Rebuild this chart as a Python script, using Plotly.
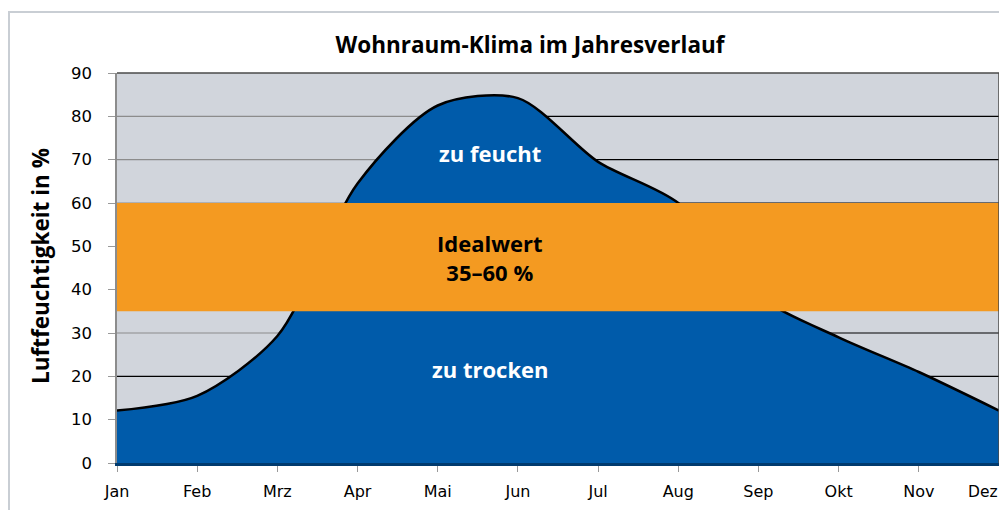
import plotly.graph_objects as go

months = ["Jan", "Feb", "Mrz", "Apr", "Mai", "Jun", "Jul", "Aug", "Sep", "Okt", "Nov", "Dez"]
humidity = [12.1, 15.5, 29.3, 64.5, 82.5, 84.2, 69.5, 60.0, 38.5, 29.0, 21.0, 12.1]
ideal_low = 35
ideal_high = 60
y_ticks = [0, 10, 20, 30, 40, 50, 60, 70, 80, 90]

xs = list(range(len(months)))

# page body offset compensation (browser default margin)
L, T, PW, PH = 109, 65, 882, 390
W, H = 1007, 510

fig = go.Figure()

fig.add_trace(go.Scatter(
    x=xs, y=humidity, mode="lines", fill="tozeroy",
    fillcolor="#005BAA", line=dict(color="black", width=2.5, shape="spline", smoothing=0.8),
    hoverinfo="skip", showlegend=False,
))

shapes = []
for v in [10, 20, 30, 60, 70, 80]:
    left_col = "#000000" if v in (10, 20) else "#8C8C8C"
    shapes.append(dict(type="line", xref="x", yref="y", x0=0, x1=4.6, y0=v, y1=v,
                       line=dict(color=left_col, width=1.2), layer="below"))
    shapes.append(dict(type="line", xref="x", yref="y", x0=4.6, x1=11, y0=v, y1=v,
                       line=dict(color="#000000", width=1.2), layer="below"))
shapes.append(dict(type="rect", xref="x", yref="y", x0=0, x1=11, y0=ideal_low, y1=ideal_high,
                   fillcolor="#F49A21", line=dict(width=0), layer="above"))
shapes.append(dict(type="line", xref="paper", yref="paper", x0=0, x1=1, y0=1, y1=1,
                   line=dict(color="#4A4A4A", width=1.5)))
shapes.append(dict(type="line", xref="paper", yref="paper", x0=1, x1=1, y0=0, y1=1,
                   line=dict(color="#4A4A4A", width=1.5)))
shapes.append(dict(type="rect", xref="paper", yref="paper",
                   x0=(1 - L) / PW, x1=1.2, y0=-0.3, y1=(T + PH - 4) / PH,
                   line=dict(color="#C9CED4", width=2), fillcolor="rgba(0,0,0,0)", layer="below"))

ticktext = months[:-1] + [""]

fig.update_layout(
    width=W, height=H,
    margin=dict(l=L, r=W - L - PW, t=T, b=H - T - PH, autoexpand=False),
    paper_bgcolor="white", plot_bgcolor="#D1D5DC",
    shapes=shapes,
    title=dict(text="<b>Wohnraum-Klima im Jahresverlauf</b>", x=(522 - L) / PW, xref="paper",
               xanchor="center", y=1 - 37 / H, yanchor="middle",
               font=dict(family="Open Sans", size=22.5, color="black")),
    font=dict(family="DejaVu Sans", color="black"),
    xaxis=dict(range=[0, 11], tickvals=xs, ticktext=ticktext, showgrid=False, zeroline=False,
               showline=True, linecolor="#003A6E", linewidth=2.5, ticks="outside", ticklen=6,
               tickcolor="#999999", tickfont=dict(size=16), ticklabelstandoff=6,
               fixedrange=True, automargin=False),
    yaxis=dict(range=[0, 90], tickvals=y_ticks, showgrid=False, zeroline=False,
               showline=True, linecolor="#8C8C8C", linewidth=1.5, ticks="outside", ticklen=7,
               tickcolor="#999999", tickfont=dict(size=16.5), ticklabelstandoff=13,
               automargin=False),
    annotations=[
        dict(x=(32 - L) / PW, y=(T + PH - 258) / PH, xref="paper", yref="paper",
             xanchor="center", yanchor="middle",
             text="<b>Luftfeuchtigkeit in %</b>", textangle=-90, showarrow=False,
             font=dict(family="Open Sans", size=22.5, color="black")),
        dict(x=(975 - L) / PW, y=-0.0, xref="paper", yref="paper", xanchor="center", yanchor="top",
             yshift=-18, text=months[-1], showarrow=False,
             font=dict(family="DejaVu Sans", size=15.5, color="black")),
        dict(x=4.65, y=71.5, xref="x", yref="y", text="<b>zu feucht</b>", showarrow=False,
             font=dict(family="Open Sans", size=22, color="white")),
        dict(x=4.65, y=47.5, xref="x", yref="y", text="<b>Idealwert<br>35–60 %</b>", showarrow=False,
             font=dict(family="Open Sans", size=22, color="black")),
        dict(x=4.65, y=21.8, xref="x", yref="y", text="<b>zu trocken</b>", showarrow=False,
             font=dict(family="Open Sans", size=22, color="white")),
    ],
)

fig.write_html("out.html")
